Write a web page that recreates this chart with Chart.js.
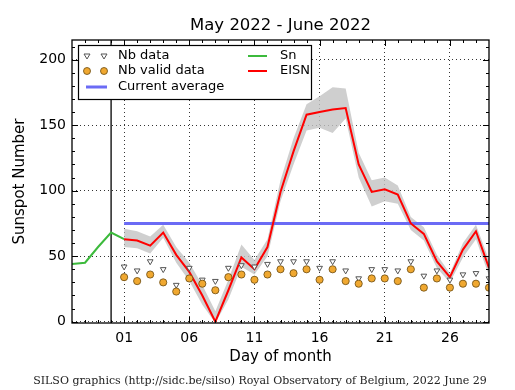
<!DOCTYPE html>
<html>
<head>
<meta charset="utf-8">
<script src="https://cdn.jsdelivr.net/npm/chart.js@4.4.1/dist/chart.umd.min.js"></script>
<style>
  html, body { margin: 0; padding: 0; background: #fff; }
  #grafic { display: block; }
</style>
</head>
<body>
<canvas id="grafic" width="515" height="390"></canvas>
<script>
/* SILSO — nombre de taques solars diari, maig-juny 2022 */

const dies      = [1,2,3,4,5,6,7,8,9,10,11,12,13,14,15,16,17,18,19,20,21,22,23,24,25,26,27,28,29];
const eisn      = [63,62,58,68,51,38,20,0,24,49,40,57,99,130,158,160,162,163,120,99,101,97,75,67,46,34,55,69,41];
const eisnAlt   = [71,69,65,74,57,45,28,8,32,59,47,63,108,140,166,172,179,178,129,108,110,104,80,72,51,37,60,74,47];
const eisnBaix  = [57,56,52,64,45,31,13,-1,17,42,36,50,92,120,146,148,144,155,110,88,92,90,70,62,41,30,49,63,35];
const nbDades   = [42,39,46,40,28,41,32,31,41,43,42,44,46,46,46,41,46,39,33,40,40,39,46,35,39,32,36,37,33];
const nbValides = [34,31,36,30,23,33,29,24,34,36,32,36,40,37,40,32,40,31,29,33,33,31,40,26,33,26,29,29,26];
const diesSn    = [-3,-2,-1,0,1];
const sn        = [44,45,57,68,63];
const mitjana   = 75;
const ticksX    = [1,6,11,16,21,26];
const ticksY    = [0,50,100,150,200];

const parells = (xs, ys) => xs.map((x, i) => ({ x, y: ys[i] }));
const FONT = 'DejaVu Sans, sans-serif';

const textos = {
  id: 'textos',
  afterDraw(chart) {
    const { ctx, chartArea: a, scales: { x, y } } = chart;
    ctx.save();

    // marc i marques interiors
    ctx.strokeStyle = '#000';
    ctx.lineWidth = 1.3;
    ctx.strokeRect(a.left, a.top, a.right - a.left, a.bottom - a.top);
    ctx.lineWidth = 1;
    ctx.beginPath();
    for (let v = 0; v <= 210; v += 10) {
      const py = Math.round(y.getPixelForValue(v)) + 0.5;
      const l = v % 50 === 0 ? 6 : 3;
      ctx.moveTo(a.left, py); ctx.lineTo(a.left + l, py);
      ctx.moveTo(a.right, py); ctx.lineTo(a.right - l, py);
    }
    for (let d = -2; d <= 28; d++) {
      const px = Math.round(x.getPixelForValue(d)) + 0.5;
      const l = ticksX.includes(d) ? 6 : 3;
      ctx.moveTo(px, a.bottom); ctx.lineTo(px, a.bottom - l);
      ctx.moveTo(px, a.top); ctx.lineTo(px, a.top + l);
    }
    ctx.stroke();

    // títols
    ctx.fillStyle = '#000';
    ctx.textAlign = 'center';
    ctx.textBaseline = 'middle';
    ctx.font = '16.5px ' + FONT;
    ctx.fillText('May 2022 - June 2022', (a.left + a.right) / 2, 26);
    ctx.font = '15px ' + FONT;
    ctx.fillText('Day of month', (a.left + a.right) / 2, 357);
    ctx.save();
    ctx.translate(20, (a.top + a.bottom) / 2);
    ctx.rotate(-Math.PI / 2);
    ctx.fillText('Sunspot Number', 0, 0);
    ctx.restore();
    ctx.font = '11px DejaVu Serif, serif';
    ctx.fillStyle = '#222';
    ctx.fillText('SILSO graphics (http://sidc.be/silso) Royal Observatory of Belgium, 2022 June 29', 260, 381);

    // llegenda
    const lx = 78, ly = 45, lw = 233, lh = 54;
    ctx.fillStyle = '#fff';
    ctx.fillRect(lx, ly, lw, lh);
    ctx.strokeStyle = '#000';
    ctx.lineWidth = 1.2;
    ctx.strokeRect(lx + 0.5, ly + 0.5, lw, lh);

    const files = [56, 71, 87];
    const tri = (cx, cy) => {
      ctx.beginPath();
      ctx.moveTo(cx - 3, cy - 2); ctx.lineTo(cx + 3, cy - 2); ctx.lineTo(cx, cy + 3); ctx.closePath();
      ctx.fillStyle = '#fff'; ctx.fill();
      ctx.strokeStyle = '#555'; ctx.lineWidth = 1; ctx.stroke();
    };
    const cercle = (cx, cy) => {
      ctx.beginPath();
      ctx.arc(cx, cy, 3.5, 0, Math.PI * 2);
      ctx.fillStyle = '#f0a830'; ctx.fill();
      ctx.strokeStyle = '#6a4a10'; ctx.lineWidth = 0.8; ctx.stroke();
    };
    const linia = (x0, x1, cy, col, w) => {
      ctx.beginPath(); ctx.moveTo(x0, cy); ctx.lineTo(x1, cy);
      ctx.strokeStyle = col; ctx.lineWidth = w; ctx.stroke();
    };
    tri(87, files[0]); tri(104, files[0]);
    cercle(87, files[1]); cercle(104, files[1]);
    linia(86, 107, files[2], '#6b6bf5', 3);
    linia(248, 267, files[0], '#3cba3c', 2);
    linia(248, 267, files[1], '#ff0000', 2);

    ctx.fillStyle = '#000';
    ctx.textAlign = 'left';
    ctx.font = '13px ' + FONT;
    ctx.fillText('Nb data', 118, files[0]);
    ctx.fillText('Nb valid data', 118, files[1]);
    ctx.fillText('Current average', 118, files[2]);
    ctx.fillText('Sn', 280, files[0]);
    ctx.fillText('EISN', 280, files[1]);
    ctx.restore();
  }
};

// Chart.js pinta el primer conjunt a sobre: marques primer, banda grisa al final
new Chart(document.getElementById('grafic').getContext('2d'), {
  type: 'line',
  data: {
    datasets: [
      { data: parells(dies, nbValides), showLine: false, pointStyle: 'circle',
        pointRadius: 3.6, backgroundColor: '#f0a830', borderColor: '#6a4a10', borderWidth: 0.8 },
      { data: parells(dies, nbDades), showLine: false, pointStyle: 'triangle', rotation: 180,
        pointRadius: 3.3, backgroundColor: '#fff', borderColor: '#555', borderWidth: 1 },
      { data: parells(dies, eisn), borderColor: '#ff0000', borderWidth: 2, pointRadius: 0 },
      { data: parells(diesSn, sn), borderColor: '#3cba3c', borderWidth: 2, pointRadius: 0 },
      { data: parells([1, 29], [mitjana, mitjana]), borderColor: '#6b6bf5', borderWidth: 3, pointRadius: 0 },
      { data: [{ x: 0, y: -5 }, { x: 0, y: 220 }], borderColor: '#000', borderWidth: 1.3, pointRadius: 0 },
      { data: parells(dies, eisnAlt), borderWidth: 0, pointRadius: 0,
        fill: '+1', backgroundColor: 'rgba(195,195,195,0.8)' },
      { data: parells(dies, eisnBaix), borderWidth: 0, pointRadius: 0, fill: false },
    ]
  },
  options: {
    responsive: false,
    animation: false,
    devicePixelRatio: 1,
    layout: { padding: { top: 40, right: 26, left: 0, bottom: 0 } },
    plugins: { legend: { display: false }, tooltip: { enabled: false } },
    elements: { line: { tension: 0 } },
    scales: {
      x: {
        type: 'linear', min: -3, max: 29,
        afterBuildTicks: s => { s.ticks = ticksX.map(v => ({ value: v })); },
        afterFit: s => { s.height = 67; },
        ticks: { color: '#000', padding: 7, font: { family: FONT, size: 14 },
                 callback: v => String(v).padStart(2, '0') },
        grid: { color: '#000', lineWidth: 0.8, drawTicks: false },
        border: { display: false, dash: [1, 3] }
      },
      y: {
        min: -1, max: 215,
        afterBuildTicks: s => { s.ticks = ticksY.map(v => ({ value: v })); },
        afterFit: s => { s.width = 72; },
        ticks: { color: '#000', padding: 6, font: { family: FONT, size: 14 } },
        grid: { color: '#000', lineWidth: 0.8, drawTicks: false },
        border: { display: false, dash: [1, 3] }
      }
    }
  },
  plugins: [textos]
});
</script>
</body>
</html>
